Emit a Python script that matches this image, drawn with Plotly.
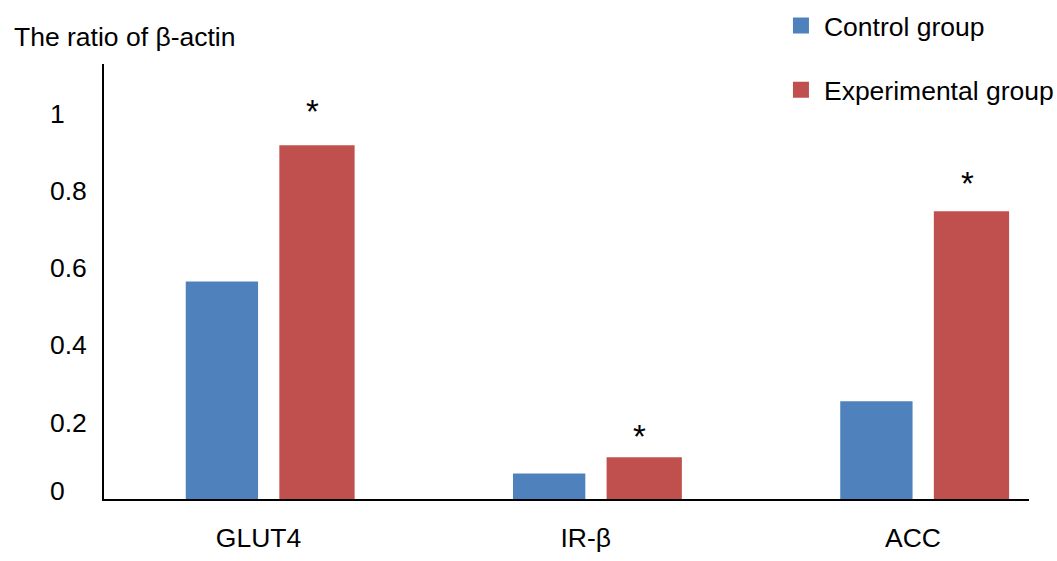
import plotly.graph_objects as go

# ---- data ----
categories = ["GLUT4", "IR-β", "ACC"]
control = [0.563, 0.066, 0.253]
experimental = [0.916, 0.108, 0.745]
series_names = ["Control group", "Experimental group"]
star_labels = ["*", "*", "*"]
star_heights = [1.014, 0.172, 0.828]
y_tick_vals = [0, 0.2, 0.4, 0.6, 0.8, 1]
y_tick_text = ["0", "0.2", "0.4", "0.6", "0.8", "1"]
y_title = "The ratio of β-actin"

BLUE = "#4F81BD"
RED = "#C0504D"
FONT = "Liberation Sans, Arial, sans-serif"
FS = 26.5

fig = go.Figure()
fig.add_trace(go.Bar(x=categories, y=control, name=series_names[0],
                     marker=dict(color=BLUE, line=dict(width=0)),
                     offset=-0.259, width=0.221, showlegend=False))
fig.add_trace(go.Bar(x=categories, y=experimental, name=series_names[1],
                     marker=dict(color=RED, line=dict(width=0)),
                     offset=0.027, width=0.23, showlegend=False))
# legend entries (larger square swatches)
for nm, col in zip(series_names, [BLUE, RED]):
    fig.add_trace(go.Scatter(x=[None], y=[None], mode="markers", name=nm,
                             legendgroup=nm,
                             marker=dict(symbol="square", size=16, color=col)))

annotations = []
# significance stars
for c, s, h in zip(categories, star_labels, star_heights):
    annotations.append(dict(x=c, y=h, xref="x", yref="y", text=s, showarrow=False,
                            xshift=42, yshift=-4, font=dict(size=33, color="black", family=FONT)))
# y tick labels (left aligned)
for v, t in zip(y_tick_vals, y_tick_text):
    annotations.append(dict(x=-0.0605, y=v, xref="paper", yref="y", text=t, showarrow=False,
                            xanchor="left", yanchor="middle",
                            yshift=8 if v == 0 else -1,
                            font=dict(size=FS, color="black", family=FONT)))
# y title
annotations.append(dict(x=-0.1, y=1.062, xref="paper", yref="paper", text=y_title,
                        showarrow=False, xanchor="left", yanchor="middle",
                        font=dict(size=FS, color="black", family=FONT)))

fig.update_layout(
    width=1057, height=561,
    margin=dict(l=104, r=28, t=64, b=62, pad=0, autoexpand=False),
    paper_bgcolor="white", plot_bgcolor="white",
    font=dict(family=FONT, size=FS, color="black"),
    barmode="group",
    annotations=annotations,
    legend=dict(xref="container", yref="container", x=0.736, y=0.997,
                xanchor="left", yanchor="top",
                traceorder="grouped", tracegroupgap=27,
                font=dict(size=FS, color="black", family=FONT),
                bgcolor="rgba(0,0,0,0)", itemwidth=36),
    xaxis=dict(range=[-0.5088, 2.3178], showline=True, linecolor="black", linewidth=2,
               ticks="", showgrid=False, zeroline=False,
               tickfont=dict(size=FS, color="black", family=FONT),
               ticklabelstandoff=14, ticklabelshift=-12),
    yaxis=dict(range=[0, 1.126], showline=True, linecolor="black", linewidth=2,
               ticks="", showgrid=False, zeroline=False, showticklabels=False),
)

fig.write_html("out.html", config={"displayModeBar": False},
               post_script="document.body.style.margin='0';document.body.style.overflow='hidden';")
